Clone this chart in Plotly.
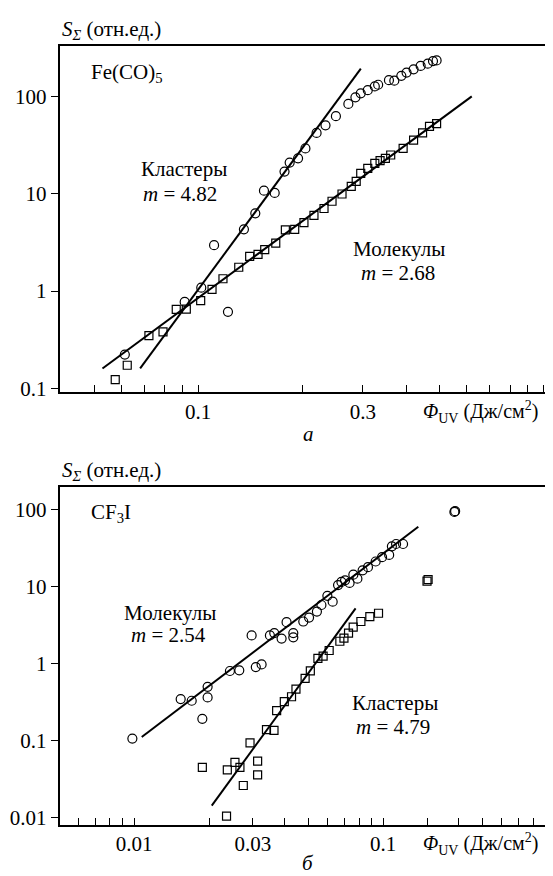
import plotly.graph_objects as go

# ---------------- data: panel a (Fe(CO)5) ----------------
a_clu_x = [0.0614, 0.0915, 0.1022, 0.1113, 0.1221, 0.1358, 0.1465, 0.1552, 0.1667, 0.178,
           0.1842, 0.1948, 0.2046, 0.2204, 0.2339, 0.2507, 0.2724, 0.2855, 0.2958, 0.31,
           0.3249, 0.3322, 0.357, 0.37, 0.3877, 0.4015, 0.4207, 0.441, 0.4624, 0.4788, 0.4905]
a_clu_y = [0.222, 0.773, 1.083, 2.96, 0.611, 4.31, 6.28, 10.75, 10.2, 16.9,
           20.9, 23.1, 29.2, 42.1, 50.5, 62.7, 83.7, 97.9, 107.5, 116,
           126.7, 131.8, 147, 145, 162.6, 175.9, 190, 205.6, 217, 231, 234.6]
a_mol_x = [0.0576, 0.0624, 0.0721, 0.0792, 0.0865, 0.0925, 0.1018, 0.1098, 0.1181, 0.1312,
           0.1411, 0.1492, 0.156, 0.1679, 0.179, 0.1905, 0.2026, 0.2166, 0.2316, 0.2443,
           0.2611, 0.2777, 0.287, 0.2958, 0.31, 0.3249, 0.3365, 0.3486, 0.3612, 0.3924,
           0.4207, 0.4467, 0.4678, 0.4905]
a_mol_y = [0.1226, 0.1726, 0.3484, 0.380, 0.647, 0.651, 0.798, 1.04, 1.337, 1.754,
           2.27, 2.38, 2.66, 3.11, 4.24, 4.31, 5.04, 5.98, 7.05, 8.37,
           9.93, 11.9, 13.4, 16.2, 18.25, 20.5, 21.9, 23.1, 25, 29.2,
           35.5, 42.1, 49.3, 52.4]
a_clu_fit_x = [0.068, 0.296]
a_clu_fit_y = [0.16, 193]
a_mol_fit_x = [0.0529, 0.62]
a_mol_fit_y = [0.16, 100]

# ---------------- data: panel б (CF3I) ----------------
b_mol_x = [0.00984, 0.01538, 0.01703, 0.01879, 0.01973, 0.01973, 0.02425, 0.02644, 0.0308, 0.0325,
           0.02964, 0.0351, 0.03654, 0.0391, 0.04357, 0.04357, 0.04094, 0.04778, 0.0504, 0.0542,
           0.0565, 0.0597, 0.0627, 0.0659, 0.068, 0.0703, 0.0733, 0.0759, 0.0788, 0.0827,
           0.0869, 0.0933, 0.099, 0.1057, 0.1084, 0.1127, 0.1202, 0.1932, 0.1945]
b_mol_y = [0.1053, 0.344, 0.327, 0.1904, 0.496, 0.361, 0.796, 0.813, 0.896, 0.97,
           2.31, 2.31, 2.48, 2.10, 2.48, 2.18, 3.43, 3.50, 3.94, 4.71,
           5.74, 7.56, 6.33, 10.4, 11.45, 12.0, 11.1, 14.2, 12.6, 16.2,
           17.8, 21.1, 24.0, 25.7, 33.2, 35.6, 35.6, 92.9, 95.0]
b_clu_x = [0.01879, 0.02367, 0.0235, 0.0254, 0.0266, 0.02744, 0.0292, 0.03133, 0.03133, 0.0340,
           0.03645, 0.03735, 0.04009, 0.04286, 0.04466, 0.0486, 0.0510, 0.0547, 0.0574, 0.0607,
           0.067, 0.0696, 0.0726, 0.0758, 0.0814, 0.0884, 0.0958, 0.150, 0.1515]
b_clu_y = [0.0446, 0.0412, 0.01033, 0.0518, 0.0446, 0.0259, 0.0925, 0.0537, 0.0355, 0.1375,
           0.1346, 0.2435, 0.318, 0.3686, 0.463, 0.64, 0.80, 1.16, 1.24, 1.47,
           1.94, 2.13, 2.47, 2.96, 3.50, 4.06, 4.48, 11.7, 12.3]
b_mol_fit_x = [0.01073, 0.1384]
b_mol_fit_y = [0.1104, 59.6]
b_clu_fit_x = [0.0205, 0.0775]
b_clu_fit_y = [0.0142, 5.19]

# ticks
a_xtick_vals = [0.05, 0.06, 0.07, 0.08, 0.09, 0.1, 0.2, 0.3, 0.4, 0.5, 0.6, 0.7, 0.8, 0.9, 1.0]
a_xtick_labels = {0.1: "0.1", 0.3: "0.3"}
b_xtick_vals = [0.006, 0.007, 0.008, 0.009, 0.01, 0.02, 0.03, 0.04, 0.05, 0.06, 0.07, 0.08, 0.09,
                0.1, 0.15, 0.2, 0.25, 0.3, 0.35, 0.4, 0.45]
b_xtick_labels = {0.01: "0.01", 0.03: "0.03", 0.1: "0.1"}
a_ytick_vals = [0.1, 1, 10, 100]
a_ytick_text = ["0.1", "1", "10", "100"]
b_ytick_vals = [0.01, 0.1, 1, 10, 100]
b_ytick_text = ["0.01", "0.1", "1", "10", "100"]

W, H = 553, 876
FONT = "Liberation Serif, Times New Roman, DejaVu Serif, serif"
FS = 21


def PX(x):
    return x / W


def PY(y):
    return 1 - y / H


fig = go.Figure()

circ = dict(symbol="circle-open", size=9, color="black", line=dict(width=1.2, color="black"))
sq = dict(symbol="square-open", size=8, color="black", line=dict(width=1.2, color="black"))
ln = dict(color="black", width=2)

fig.add_trace(go.Scatter(x=a_clu_fit_x, y=a_clu_fit_y, mode="lines", line=ln, xaxis="x", yaxis="y"))
fig.add_trace(go.Scatter(x=a_mol_fit_x, y=a_mol_fit_y, mode="lines", line=ln, xaxis="x", yaxis="y"))
fig.add_trace(go.Scatter(x=a_clu_x, y=a_clu_y, mode="markers", marker=circ, xaxis="x", yaxis="y"))
fig.add_trace(go.Scatter(x=a_mol_x, y=a_mol_y, mode="markers", marker=sq, xaxis="x", yaxis="y"))

fig.add_trace(go.Scatter(x=b_mol_fit_x, y=b_mol_fit_y, mode="lines", line=ln, xaxis="x2", yaxis="y2"))
fig.add_trace(go.Scatter(x=b_clu_fit_x, y=b_clu_fit_y, mode="lines", line=ln, xaxis="x2", yaxis="y2"))
fig.add_trace(go.Scatter(x=b_mol_x, y=b_mol_y, mode="markers", marker=circ, xaxis="x2", yaxis="y2"))
fig.add_trace(go.Scatter(x=b_clu_x, y=b_clu_y, mode="markers", marker=sq, xaxis="x2", yaxis="y2"))

x_dom = [PX(51.5), PX(548)]
top_dom = [PY(388), PY(38.3)]
bot_dom = [PY(825), PY(484.3)]

common_ax = dict(type="log", showgrid=False, zeroline=False, showline=True, mirror=True,
                 linecolor="black", linewidth=1.5, tickcolor="black", tickwidth=1.3, ticklen=7,
                 tickfont=dict(family=FONT, size=FS, color="black"))

fig.update_layout(
    width=W, height=H, margin=dict(l=0, r=0, t=0, b=0),
    paper_bgcolor="white", plot_bgcolor="white", showlegend=False,
    font=dict(family=FONT, size=FS, color="black"),
    xaxis=dict(common_ax, domain=x_dom, anchor="y", range=[-1.4009, 0.0362], ticks="inside",
               tickmode="array", tickvals=a_xtick_vals,
               ticktext=[a_xtick_labels.get(v, "") for v in a_xtick_vals]),
    yaxis=dict(common_ax, domain=top_dom, anchor="x", range=[-1.038, 2.519], ticks="outside",
               tickmode="array", tickvals=a_ytick_vals, ticktext=a_ytick_text),
    xaxis2=dict(common_ax, domain=x_dom, anchor="y2", range=[-2.2996, -0.306], ticks="inside",
                tickmode="array", tickvals=b_xtick_vals,
                ticktext=[b_xtick_labels.get(v, "") for v in b_xtick_vals]),
    yaxis2=dict(common_ax, domain=bot_dom, anchor="x2", range=[-2.094, 2.288], ticks="outside",
                tickmode="array", tickvals=b_ytick_vals, ticktext=b_ytick_text),
)


def note(text, x, y, xanchor="center", size=FS):
    fig.add_annotation(text=text, x=PX(x), y=PY(y), xref="paper", yref="paper",
                       xanchor=xanchor, yanchor="middle", showarrow=False,
                       font=dict(family=FONT, size=size, color="black"))


# panel a texts
note("<i>S</i><sub><i>Σ</i></sub> (отн.ед.)", 52, 22, "left")
note("Fe(CO)<sub>5</sub>", 81, 66, "left")
note("Кластеры", 176, 163)
note("<i>m</i> = 4.82", 172, 188)
note("Молекулы", 391, 243)
note("<i>m</i> = 2.68", 390, 268)
note("<i>Φ</i><sub>UV</sub> (Дж/см<sup>2</sup>)", 413, 408, "left", 20)
note("<i>а</i>", 300, 430)

# panel б texts
note("<i>S</i><sub><i>Σ</i></sub> (отн.ед.)", 52, 468, "left")
note("CF<sub>3</sub>I", 81, 510, "left")
note("Молекулы", 162, 611)
note("<i>m</i> = 2.54", 160, 634)
note("Кластеры", 387, 702)
note("<i>m</i> = 4.79", 385, 726)
note("<i>Φ</i><sub>UV</sub> (Дж/см<sup>2</sup>)", 413, 845, "left", 20)
note("<i>б</i>", 300, 864)

fig.write_html("out.html")
